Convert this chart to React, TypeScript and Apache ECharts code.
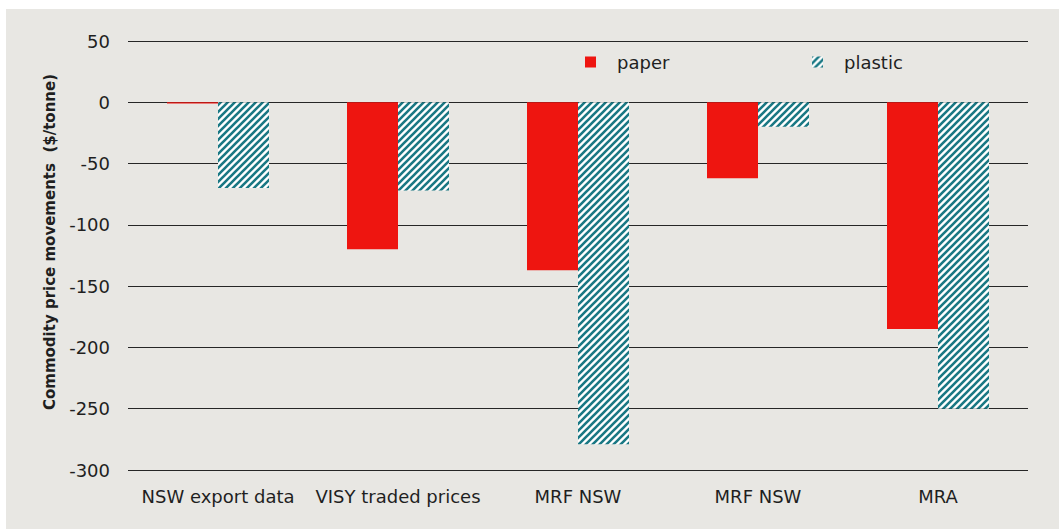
import React, { useEffect, useRef } from "react";
import * as echarts from "echarts";

const categories = ["NSW export data", "VISY traded prices", "MRF NSW", "MRF NSW", "MRA"];
const paperValues = [-1, -120, -137, -62, -185];
const plasticValues = [-70, -72, -279, -20, -250];
const yTicks = { min: -300, max: 50, interval: 50 };

const RED = "#EE1510";
const TEAL = "#1A7884";
const BG = "#E8E7E3";
const FONT = "'DejaVu Sans', 'Liberation Sans', sans-serif";
const TEXT = "#1F1F1F";

function makeHatch(): string {
  const s = 7;
  const c = document.createElement("canvas");
  c.width = s;
  c.height = s;
  const ctx = c.getContext("2d")!;
  ctx.fillStyle = "#FFFFFF";
  ctx.fillRect(0, 0, s, s);
  ctx.strokeStyle = TEAL;
  ctx.lineWidth = 2.6;
  ctx.beginPath();
  ctx.moveTo(-1, s + 1);
  ctx.lineTo(s + 1, -1);
  ctx.moveTo(-2, 2);
  ctx.lineTo(2, -2);
  ctx.moveTo(s - 2, s + 2);
  ctx.lineTo(s + 2, s - 2);
  ctx.stroke();
  return c.toDataURL();
}

export default function App() {
  const ref = useRef<HTMLDivElement>(null);
  useEffect(() => {
    document.body.style.margin = "0";
    const chart = echarts.init(ref.current!, null, { renderer: "svg" });
    const hatch = { image: makeHatch(), repeat: "repeat" as const };
    const legendText = { fontSize: 18, color: TEXT, fontFamily: FONT, padding: [0, 0, 0, 16] };
    chart.setOption({
      animation: false,
      backgroundColor: BG,
      textStyle: { fontFamily: FONT },
      grid: { left: 122, right: 31, top: 32, bottom: 59 },
      legend: [
        {
          data: ["paper"],
          left: 579,
          top: 44,
          padding: 0,
          itemWidth: 11,
          itemHeight: 11,
          icon: "rect",
          textStyle: legendText,
        },
        {
          data: ["plastic"],
          left: 806,
          top: 44,
          padding: 0,
          itemWidth: 11,
          itemHeight: 11,
          icon: "rect",
          textStyle: legendText,
        },
      ],
      xAxis: {
        type: "category",
        data: categories,
        axisLine: { show: false },
        axisTick: { show: false },
        axisLabel: { fontSize: 18, color: TEXT, margin: 17, fontFamily: FONT, interval: 0 },
      },
      yAxis: {
        type: "value",
        min: yTicks.min,
        max: yTicks.max,
        interval: yTicks.interval,
        name: "Commodity price movements  ($/tonne)",
        nameLocation: "middle",
        nameGap: 71,
        nameTextStyle: { fontSize: 15, fontWeight: "bold", color: TEXT, fontFamily: FONT, padding: [0, 0, 0, 27] },
        axisLine: { show: false },
        axisTick: { show: false },
        axisLabel: { fontSize: 18, color: TEXT, margin: 18, fontFamily: FONT },
        splitLine: { lineStyle: { color: "#262626", width: 1 } },
      },
      series: [
        {
          name: "paper",
          type: "bar",
          data: paperValues,
          barWidth: 51,
          barGap: "0%",
          itemStyle: { color: RED },
        },
        {
          name: "plastic",
          type: "bar",
          data: plasticValues,
          barWidth: 51,
          barGap: "0%",
          itemStyle: { color: hatch },
        },
      ],
    });
    return () => chart.dispose();
  }, []);
  return (
    <div style={{ width: 1059, height: 529, background: "#FFFFFF", position: "relative" }}>
      <div ref={ref} style={{ position: "absolute", left: 6, top: 9, width: 1053, height: 520 }} />
    </div>
  );
}
